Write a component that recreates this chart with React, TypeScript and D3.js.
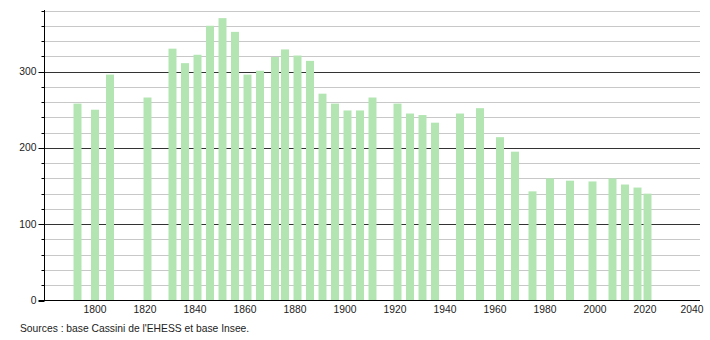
import React from "react";
import * as d3 from "d3";

const years = [1793, 1800, 1806, 1821, 1831, 1836, 1841, 1846, 1851, 1856, 1861, 1866, 1872, 1876, 1881, 1886, 1891, 1896, 1901, 1906, 1911, 1921, 1926, 1931, 1936, 1946, 1954, 1962, 1968, 1975, 1982, 1990, 1999, 2007, 2012, 2017, 2021];
const population = [258, 250, 296, 266, 330, 311, 322, 360, 370, 352, 296, 301, 319, 329, 321, 314, 271, 258, 249, 249, 266, 258, 245, 243, 233, 245, 252, 214, 195, 143, 160, 157, 156, 160, 152, 148, 140];
const xTicks = [1800, 1820, 1840, 1860, 1880, 1900, 1920, 1940, 1960, 1980, 2000, 2020, 2040];
const yMajorTicks = [0, 100, 200, 300];
const yMinorTicks = [20, 40, 60, 80, 120, 140, 160, 180, 220, 240, 260, 280, 320, 340, 360, 380];
const sourceText = "Sources : base Cassini de l'EHESS et base Insee.";

export default function App() {
  const W = 710, H = 340;
  const left = 44.5, right = 700, top = 10.5, bottom = 300.5;
  const x = d3.scaleLinear().domain([1779.8, 2042]).range([left, right]);
  const y = d3.scaleLinear().domain([0, 380]).range([bottom, top]);
  const barW = 8;
  const font = "'Liberation Sans', Arial, sans-serif";
  const fs = 10.3;
  return (
    <svg width={W} height={H} style={{ position: "absolute", left: 0, top: 0, background: "#fff" }}>
      {yMinorTicks.map(t => (
        <g key={"mn" + t}>
          <line x1={left} x2={right} y1={Math.round(y(t)) + 0.5} y2={Math.round(y(t)) + 0.5} stroke="#c8c8c8" strokeWidth={1} />
          <line x1={left - 3} x2={left} y1={Math.round(y(t)) + 0.5} y2={Math.round(y(t)) + 0.5} stroke="#000" strokeWidth={1} />
        </g>
      ))}
      {yMajorTicks.filter(t => t > 0).map(t => (
        <line key={"mj" + t} x1={left} x2={right} y1={Math.round(y(t)) + 0.5} y2={Math.round(y(t)) + 0.5} stroke="#333" strokeWidth={1} />
      ))}
      {years.map((yr, i) => (
        <rect key={yr} x={x(yr) - barW / 2} y={y(population[i])} width={barW} height={y(0) - y(population[i])} fill="#b3e5b3" />
      ))}
      {yMajorTicks.map(t => (
        <g key={"yl" + t}>
          <line x1={left - 6} x2={left} y1={Math.round(y(t)) + 0.5} y2={Math.round(y(t)) + 0.5} stroke="#000" strokeWidth={1} />
          <text x={left - 8} y={y(t)} dy="0.35em" textAnchor="end" fontFamily={font} fontSize={fs} fill="#222">{t}</text>
        </g>
      ))}
      <line x1={left} x2={left} y1={top - 0.5} y2={bottom} stroke="#000" strokeWidth={1} />
      <line x1={left - 6} x2={right} y1={bottom} y2={bottom} stroke="#000" strokeWidth={1} />
      {xTicks.map(t => (
        <text key={"xl" + t} x={Math.min(x(t), 692)} y={312.5} textAnchor="middle" fontFamily={font} fontSize={fs} fill="#222">{t}</text>
      ))}
      <text x={20} y={332} fontFamily={font} fontSize={fs} fill="#222">{sourceText}</text>
    </svg>
  );
}
